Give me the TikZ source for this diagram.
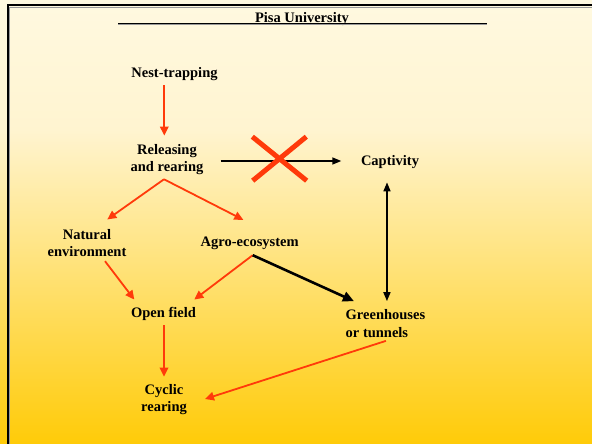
\documentclass[tikz,border=0pt]{standalone}
\usepackage{fontspec}
\setmainfont{Liberation Serif}
\usetikzlibrary{arrows.meta,calc}
\definecolor{arrred}{RGB}{255,58,10}
\definecolor{bgtop}{RGB}{255,249,224}
\definecolor{bgup}{RGB}{255,244,208}
\definecolor{bgmid}{RGB}{255,224,128}
\definecolor{bgbot}{RGB}{255,203,8}
\begin{document}
\begin{tikzpicture}[x=1pt,y=-1pt,
  lbl/.style={font=\fontsize{14.5}{17.5}\selectfont\bfseries, inner sep=0pt, align=center},
  redarr/.style={draw=arrred, line width=1.8pt, -{Triangle[length=9pt,width=8.5pt]}},
  blkarr/.style={draw=black, line width=1.6pt, -{Triangle[length=9pt,width=7pt]}},
  dblarr/.style={draw=black, line width=1.6pt, {Triangle[length=9pt,width=7pt]}-{Triangle[length=9pt,width=7pt]}},
  thickarr/.style={draw=black, line width=2.6pt, -{Triangle[length=11pt,width=10pt]}},
  cross/.style={draw=arrred, line width=5pt},
  frame/.style={draw=black, line width=2pt},
  shadowline/.style={draw=gray!80, line width=0.8pt}]
% background
\fill[top color=bgtop, bottom color=bgup] (0,0) rectangle (592,131);
\fill[top color=bgup, middle color=bgmid, bottom color=bgbot] (0,130) rectangle (592,444);
\useasboundingbox (0,0) rectangle (592,444);
% frame
\draw[shadowline] (9.8,446) -- (9.8,7.3) -- (594,7.3);
\draw[frame] (8,446) -- (8,5.5) -- (594,5.5);
% title
\node[lbl, anchor=base] (title) at (302,22.5) {Pisa University};
\draw[shadowline] (118,24.2) -- (487,24.2);
\draw[line width=0.8pt] (118,23.3) -- (487,23.3);
% nodes
\node[lbl] (nest) at (174.5,74) {Nest-trapping};
\node[lbl] (rel) at (167,159.7) {Releasing\\and rearing};
\node[lbl] (cap) at (390,162.4) {Captivity};
\node[lbl] (nat) at (87,243.2) {Natural\\environment};
\node[lbl] (agro) at (249.7,243.3) {Agro-ecosystem};
\node[lbl] (open) at (163.5,314.3) {Open field};
\node[lbl, align=left, anchor=west] (green) at (345.5,323.6) {Greenhouses\\or tunnels};
\node[lbl] (cyc) at (164,399.5) {Cyclic\\rearing};
% connectors
\draw[redarr] ($(nest.south)+(-10.2,4.5)$) -- ($(rel.north)+(-2.7,-8.5)$);
\draw[blkarr] ($(rel.east)+(17,1.3)$) -- ($(cap.west)+(-19.5,-1.4)$);
\draw[cross] (252.3,136.7) -- (306.7,180.7) (306.3,136.7) -- (252.7,180.7);
\draw[redarr] ($(rel.south)+(-3,4)$) -- ($(nat.north)+(20.3,-9.7)$);
\draw[redarr] ($(rel.south)+(-3,4)$) -- ($(agro.north)+(-6.4,-16.9)$);
\draw[redarr] ($(nat.south)+(18,3.9)$) -- ($(open.north)+(-29.2,-7.9)$);
\draw[redarr] ($(agro.south)+(3,5.3)$) -- ($(open.north)+(30.8,-7.9)$);
\draw[thickarr] ($(agro.south)+(3,5.3)$) -- ($(green.north)+(-31.5,-8.4)$);
\draw[dblarr] ($(cap.south)+(-3,13.2)$) -- ($(green.north)+(1.5,-8.4)$);
\draw[redarr] ($(open.south)+(0.5,4.3)$) -- ($(cyc.north)+(0,-7.3)$);
\draw[redarr] ($(green.south)+(0.5,3.2)$) -- ($(cyc.east)+(18,-0.5)$);
\end{tikzpicture}
\end{document}
